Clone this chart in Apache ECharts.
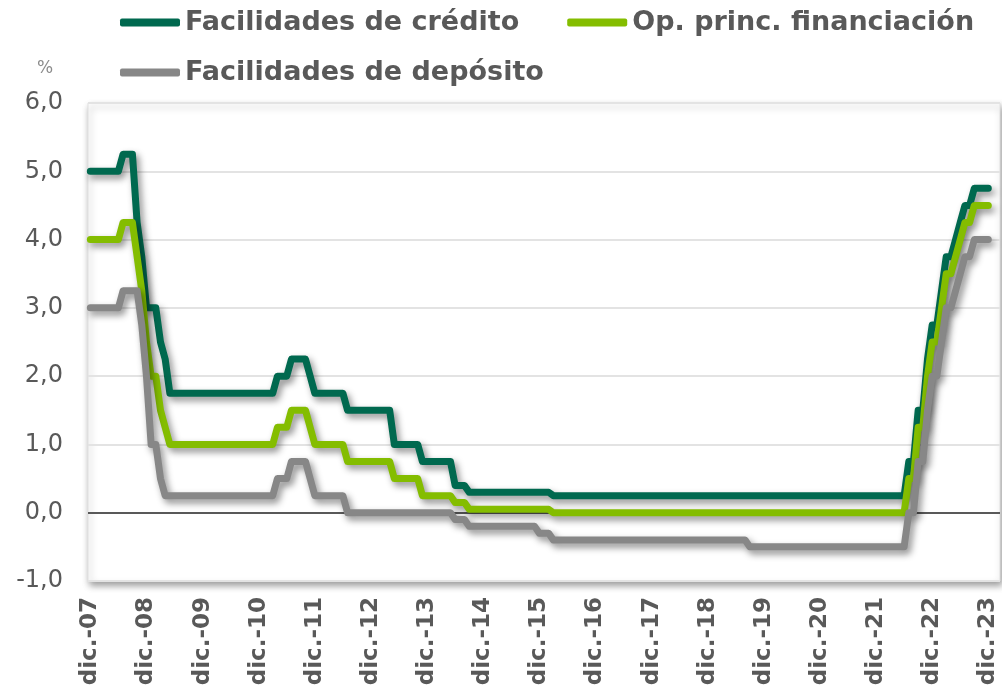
<!DOCTYPE html>
<html>
<head>
<meta charset="utf-8">
<script src="https://cdn.jsdelivr.net/npm/echarts@6/dist/echarts.min.js"></script>
<style>
  html, body { margin: 0; padding: 0; background: #fff; }
  #chart { width: 1002px; height: 692px; }
</style>
</head>
<body>
<div id="chart"></div>
<script>
// month names (es) and years for the category axis, dic.-07 .. dic.-23 plus 2 empty slots
const monthNames = ['ene.', 'feb.', 'mar.', 'abr.', 'may.', 'jun.', 'jul.', 'ago.', 'sep.', 'oct.', 'nov.', 'dic.']
const years = ['07', '08', '09', '10', '11', '12', '13', '14', '15', '16', '17', '18', '19', '20', '21', '22', '23', '24']

const seriesNames = ['Facilidades de crédito', 'Op. princ. financiación', 'Facilidades de depósito']

// monthly values, end of month, from dic.-07
const credito = [
  5.00,
  5.00, 5.00, 5.00, 5.00, 5.00, 5.00, 5.25, 5.25, 5.25, 4.25, 3.75, 3.00,
  3.00, 3.00, 2.50, 2.25, 1.75, 1.75, 1.75, 1.75, 1.75, 1.75, 1.75, 1.75,
  1.75, 1.75, 1.75, 1.75, 1.75, 1.75, 1.75, 1.75, 1.75, 1.75, 1.75, 1.75,
  1.75, 1.75, 1.75, 2.00, 2.00, 2.00, 2.25, 2.25, 2.25, 2.25, 2.00, 1.75,
  1.75, 1.75, 1.75, 1.75, 1.75, 1.75, 1.50, 1.50, 1.50, 1.50, 1.50, 1.50,
  1.50, 1.50, 1.50, 1.50, 1.00, 1.00, 1.00, 1.00, 1.00, 1.00, 0.75, 0.75,
  0.75, 0.75, 0.75, 0.75, 0.75, 0.40, 0.40, 0.40, 0.30, 0.30, 0.30, 0.30,
  0.30, 0.30, 0.30, 0.30, 0.30, 0.30, 0.30, 0.30, 0.30, 0.30, 0.30, 0.30,
  0.30, 0.30, 0.25, 0.25, 0.25, 0.25, 0.25, 0.25, 0.25, 0.25, 0.25, 0.25,
  0.25, 0.25, 0.25, 0.25, 0.25, 0.25, 0.25, 0.25, 0.25, 0.25, 0.25, 0.25,
  0.25, 0.25, 0.25, 0.25, 0.25, 0.25, 0.25, 0.25, 0.25, 0.25, 0.25, 0.25,
  0.25, 0.25, 0.25, 0.25, 0.25, 0.25, 0.25, 0.25, 0.25, 0.25, 0.25, 0.25,
  0.25, 0.25, 0.25, 0.25, 0.25, 0.25, 0.25, 0.25, 0.25, 0.25, 0.25, 0.25,
  0.25, 0.25, 0.25, 0.25, 0.25, 0.25, 0.25, 0.25, 0.25, 0.25, 0.25, 0.25,
  0.25, 0.25, 0.25, 0.25, 0.25, 0.25, 0.75, 0.75, 1.50, 1.50, 2.25, 2.75,
  2.75, 3.25, 3.75, 3.75, 4.00, 4.25, 4.50, 4.50, 4.75, 4.75, 4.75, 4.75
]

const financiacion = [
  4.00,
  4.00, 4.00, 4.00, 4.00, 4.00, 4.00, 4.25, 4.25, 4.25, 3.75, 3.25, 2.50,
  2.00, 2.00, 1.50, 1.25, 1.00, 1.00, 1.00, 1.00, 1.00, 1.00, 1.00, 1.00,
  1.00, 1.00, 1.00, 1.00, 1.00, 1.00, 1.00, 1.00, 1.00, 1.00, 1.00, 1.00,
  1.00, 1.00, 1.00, 1.25, 1.25, 1.25, 1.50, 1.50, 1.50, 1.50, 1.25, 1.00,
  1.00, 1.00, 1.00, 1.00, 1.00, 1.00, 0.75, 0.75, 0.75, 0.75, 0.75, 0.75,
  0.75, 0.75, 0.75, 0.75, 0.50, 0.50, 0.50, 0.50, 0.50, 0.50, 0.25, 0.25,
  0.25, 0.25, 0.25, 0.25, 0.25, 0.15, 0.15, 0.15, 0.05, 0.05, 0.05, 0.05,
  0.05, 0.05, 0.05, 0.05, 0.05, 0.05, 0.05, 0.05, 0.05, 0.05, 0.05, 0.05,
  0.05, 0.05, 0.00, 0.00, 0.00, 0.00, 0.00, 0.00, 0.00, 0.00, 0.00, 0.00,
  0.00, 0.00, 0.00, 0.00, 0.00, 0.00, 0.00, 0.00, 0.00, 0.00, 0.00, 0.00,
  0.00, 0.00, 0.00, 0.00, 0.00, 0.00, 0.00, 0.00, 0.00, 0.00, 0.00, 0.00,
  0.00, 0.00, 0.00, 0.00, 0.00, 0.00, 0.00, 0.00, 0.00, 0.00, 0.00, 0.00,
  0.00, 0.00, 0.00, 0.00, 0.00, 0.00, 0.00, 0.00, 0.00, 0.00, 0.00, 0.00,
  0.00, 0.00, 0.00, 0.00, 0.00, 0.00, 0.00, 0.00, 0.00, 0.00, 0.00, 0.00,
  0.00, 0.00, 0.00, 0.00, 0.00, 0.00, 0.50, 0.50, 1.25, 1.25, 2.00, 2.50,
  2.50, 3.00, 3.50, 3.50, 3.75, 4.00, 4.25, 4.25, 4.50, 4.50, 4.50, 4.50
]

const deposito = [
  3.00,
  3.00, 3.00, 3.00, 3.00, 3.00, 3.00, 3.25, 3.25, 3.25, 3.25, 2.75, 2.00,
  1.00, 1.00, 0.50, 0.25, 0.25, 0.25, 0.25, 0.25, 0.25, 0.25, 0.25, 0.25,
  0.25, 0.25, 0.25, 0.25, 0.25, 0.25, 0.25, 0.25, 0.25, 0.25, 0.25, 0.25,
  0.25, 0.25, 0.25, 0.50, 0.50, 0.50, 0.75, 0.75, 0.75, 0.75, 0.50, 0.25,
  0.25, 0.25, 0.25, 0.25, 0.25, 0.25, 0.00, 0.00, 0.00, 0.00, 0.00, 0.00,
  0.00, 0.00, 0.00, 0.00, 0.00, 0.00, 0.00, 0.00, 0.00, 0.00, 0.00, 0.00,
  0.00, 0.00, 0.00, 0.00, 0.00, -0.10, -0.10, -0.10, -0.20, -0.20, -0.20, -0.20,
  -0.20, -0.20, -0.20, -0.20, -0.20, -0.20, -0.20, -0.20, -0.20, -0.20, -0.20, -0.30,
  -0.30, -0.30, -0.40, -0.40, -0.40, -0.40, -0.40, -0.40, -0.40, -0.40, -0.40, -0.40,
  -0.40, -0.40, -0.40, -0.40, -0.40, -0.40, -0.40, -0.40, -0.40, -0.40, -0.40, -0.40,
  -0.40, -0.40, -0.40, -0.40, -0.40, -0.40, -0.40, -0.40, -0.40, -0.40, -0.40, -0.40,
  -0.40, -0.40, -0.40, -0.40, -0.40, -0.40, -0.40, -0.40, -0.50, -0.50, -0.50, -0.50,
  -0.50, -0.50, -0.50, -0.50, -0.50, -0.50, -0.50, -0.50, -0.50, -0.50, -0.50, -0.50,
  -0.50, -0.50, -0.50, -0.50, -0.50, -0.50, -0.50, -0.50, -0.50, -0.50, -0.50, -0.50,
  -0.50, -0.50, -0.50, -0.50, -0.50, -0.50, 0.00, 0.00, 0.75, 0.75, 1.50, 2.00,
  2.00, 2.50, 3.00, 3.00, 3.25, 3.50, 3.75, 3.75, 4.00, 4.00, 4.00, 4.00
]

const colors = ['#00694F', '#84BD00', '#878787']
const textColor = '#595959'
const font = 'DejaVu Sans'

// category labels: dic.-07, ene.-08, ... feb.-24
const categories = ['dic.-' + years[0]]
for (let y = 1; y < years.length; y++) {
  for (let m = 0; m < 12 && categories.length < 195; m++) {
    categories.push(monthNames[m] + '-' + years[y])
  }
}

const chart = echarts.init(document.getElementById('chart'))

const makeSeries = (name, data, color) => ({
  name: name,
  type: 'line',
  data: data,
  symbol: 'none',
  lineStyle: {
    color: color,
    width: 7,
    cap: 'round',
    join: 'round',
    shadowColor: 'rgba(0,0,0,0.45)',
    shadowBlur: 7,
    shadowOffsetX: 3,
    shadowOffsetY: 4
  },
  itemStyle: { color: color }
})

const legendBase = {
  left: 115,
  itemWidth: 60,
  itemHeight: 8,
  itemGap: 48,
  icon: 'roundRect',
  textStyle: { fontFamily: font, fontSize: 27, fontWeight: 'bold', color: textColor }
}

chart.setOption({
  animation: false,
  backgroundColor: '#fff',
  legend: [
    Object.assign({}, legendBase, { top: 4, data: [seriesNames[0], seriesNames[1]] }),
    Object.assign({}, legendBase, { top: 54, data: [seriesNames[2]] })
  ],
  grid: {
    left: 88,
    right: 2,
    top: 103,
    bottom: 111,
    show: true,
    backgroundColor: '#fff',
    borderColor: '#e0e0e0',
    borderWidth: 1,
    shadowColor: 'rgba(0,0,0,0.4)',
    shadowBlur: 7,
    shadowOffsetX: 2,
    shadowOffsetY: 4
  },
  xAxis: {
    type: 'category',
    data: categories,
    boundaryGap: true,
    axisLine: { show: false },
    axisTick: { show: false },
    splitLine: { show: false },
    axisLabel: {
      rotate: 90,
      margin: 16,
      interval: (idx) => idx % 12 === 0 && idx <= 192,
      fontFamily: font,
      fontSize: 23,
      fontWeight: 'bold',
      color: textColor
    }
  },
  yAxis: {
    type: 'value',
    min: -1,
    max: 6,
    interval: 1,
    name: '%',
    nameLocation: 'end',
    nameGap: 26,
    nameTextStyle: { fontFamily: font, fontSize: 17, color: '#8c8c8c', padding: [0, 86, 0, 0] },
    axisLine: { show: false },
    axisTick: { show: false },
    axisLabel: {
      margin: 25,
      fontFamily: font,
      fontSize: 24,
      color: textColor,
      formatter: (v) => v.toFixed(1).replace('.', ',')
    },
    splitLine: {
      lineStyle: {
        width: 2,
        color: ['#e3e3e3', '#595959', '#e3e3e3', '#e3e3e3', '#e3e3e3', '#e3e3e3', '#e3e3e3', '#e3e3e3']
      }
    }
  },
  series: [
    makeSeries(seriesNames[0], credito, colors[0]),
    makeSeries(seriesNames[1], financiacion, colors[1]),
    makeSeries(seriesNames[2], deposito, colors[2])
  ]
})
</script>
</body>
</html>
